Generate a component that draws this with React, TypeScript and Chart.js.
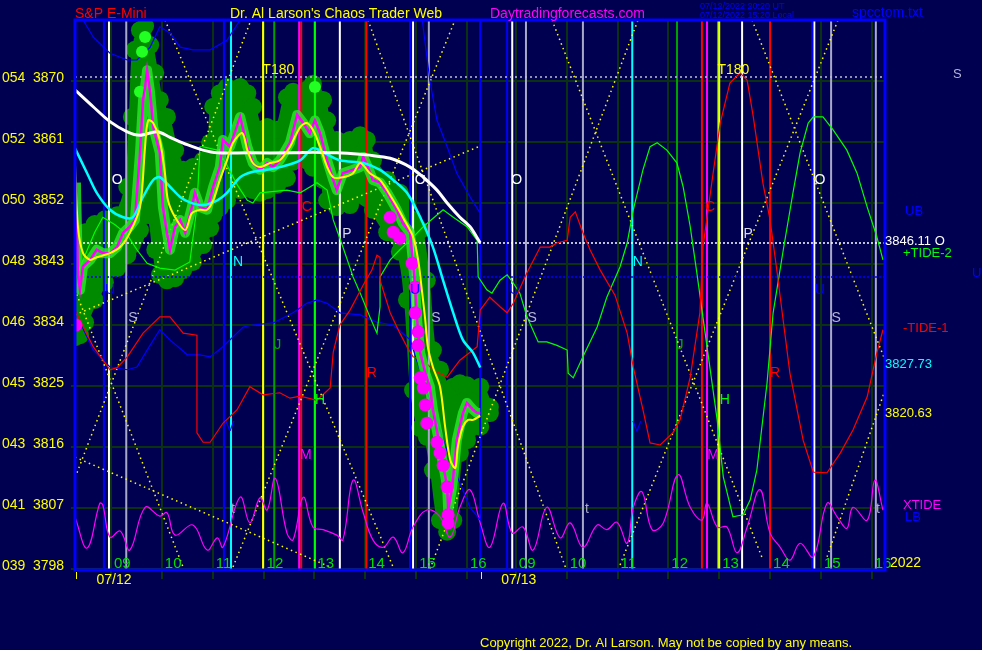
import React, { useEffect, useRef } from 'react';
import { Chart, registerables } from 'chart.js';

Chart.register(...registerables);

// Time axis: hours after 09:00 on 07/12; the 07/13 session's 09:00 sits at DAY2.
const DAY2 = 7.96;
const X_MIN = -0.708;
const X_MAX = 15.22;
const Y_MIN = 3798;
const Y_MAX = 3879;

const yTicks = [3798, 3807, 3816, 3825, 3834, 3843, 3852, 3861, 3870];
const yCodes = ['039', '041', '043', '045', '046', '048', '050', '052', '054'];
const hourLabels = ['09', '10', '11', '12', '13', '14', '15', '16'];
const dayNames = ['07/12', '07/13'];
const dayNine = [0, DAY2];
const dayStartTicks = [X_MIN, 7.257];

// S&P E-mini price (magenta)
const priceT = [-0.69, -0.65, -0.61, -0.55, -0.41, -0.28, -0.16, -0.02, 0.12, 0.24, 0.37, 0.47, 0.57, 0.63, 0.67, 0.71, 0.77, 0.83, 0.96, 1.02, 1.10, 1.16, 1.26, 1.36, 1.46, 1.59, 1.65, 1.75, 1.89, 2.01, 2.14, 2.20, 2.34, 2.54, 2.68, 2.79, 2.93, 3.07, 3.19, 3.32, 3.52, 3.66, 3.78, 3.91, 4.01, 4.11, 4.25, 4.37, 4.44, 4.56, 4.76, 4.90, 4.96, 5.05, 5.15, 5.29, 5.43, 5.62, 5.74, 5.88, 5.94, 5.98, 6.02, 6.08, 6.18, 6.27, 6.33, 6.47, 6.61, 6.63, 6.71, 6.80, 6.92, 7.00, 7.12, 7.20, 7.26];
const priceV = [3855.0, 3841.4, 3839.2, 3842.6, 3843.6, 3845.1, 3844.6, 3844.6, 3845.5, 3847.6, 3848.5, 3849.5, 3859.4, 3867.2, 3869.1, 3871.6, 3868.2, 3863.2, 3859.4, 3851.4, 3847.6, 3845.1, 3848.5, 3849.5, 3847.6, 3851.4, 3853.5, 3851.4, 3851.0, 3854.4, 3857.3, 3861.3, 3860.3, 3864.7, 3860.3, 3857.9, 3856.9, 3857.9, 3857.3, 3858.3, 3860.9, 3865.0, 3863.8, 3862.3, 3864.2, 3862.3, 3858.3, 3855.4, 3853.9, 3856.4, 3856.9, 3857.3, 3858.8, 3857.3, 3855.4, 3855.0, 3853.5, 3851.0, 3849.0, 3847.6, 3843.1, 3839.6, 3834.7, 3829.9, 3826.9, 3824.9, 3821.5, 3816.0, 3810.1, 3806.7, 3810.1, 3817.0, 3821.0, 3822.5, 3821.5, 3821.0, 3821.0];

// fast average (yellow)
const yellowT = [-0.71, -0.65, -0.55, -0.41, -0.28, -0.02, 0.18, 0.37, 0.57, 0.67, 0.73, 0.83, 0.96, 1.06, 1.12, 1.26, 1.46, 1.59, 1.75, 1.89, 2.01, 2.14, 2.28, 2.40, 2.58, 2.68, 2.79, 2.93, 3.13, 3.32, 3.52, 3.72, 3.85, 3.97, 4.11, 4.25, 4.37, 4.56, 4.76, 4.90, 5.09, 5.29, 5.55, 5.74, 5.94, 6.04, 6.12, 6.18, 6.23, 6.33, 6.47, 6.57, 6.67, 6.77, 6.82, 6.92, 7.02, 7.12, 7.26];
const yellowV = [3858.0, 3848.5, 3844.6, 3843.6, 3844.0, 3844.6, 3845.5, 3847.6, 3851.4, 3860.3, 3864.2, 3863.8, 3861.3, 3856.4, 3852.4, 3849.9, 3848.0, 3850.5, 3851.0, 3851.0, 3852.4, 3855.4, 3858.3, 3860.9, 3862.3, 3859.8, 3857.9, 3857.3, 3857.9, 3858.3, 3860.3, 3863.2, 3863.8, 3862.8, 3860.3, 3857.3, 3855.8, 3855.8, 3856.4, 3857.9, 3856.4, 3855.4, 3852.4, 3849.9, 3847.0, 3843.6, 3838.7, 3834.7, 3830.8, 3827.8, 3824.9, 3819.0, 3814.1, 3812.9, 3816.0, 3819.0, 3820.0, 3820.0, 3820.63];

// medium average (cyan)
const cyanT = [-0.71, -0.47, -0.28, -0.02, 0.24, 0.43, 0.63, 0.83, 0.96, 1.16, 1.36, 1.55, 1.81, 2.09, 2.28, 2.54, 2.79, 3.07, 3.32, 3.72, 3.97, 4.17, 4.50, 4.96, 5.29, 5.55, 5.82, 6.08, 6.33, 6.53, 6.73, 6.92, 7.12, 7.26];
const cyanV = [3860.1, 3856.4, 3853.5, 3851.0, 3849.9, 3849.9, 3852.9, 3855.4, 3855.8, 3854.4, 3852.9, 3852.1, 3851.7, 3852.4, 3853.5, 3855.8, 3856.6, 3856.9, 3857.3, 3858.3, 3860.1, 3859.5, 3858.3, 3857.9, 3856.9, 3855.4, 3853.5, 3849.9, 3845.5, 3840.6, 3835.8, 3831.8, 3829.9, 3827.73];

// slow average (white)
const whiteT = [-0.71, -0.35, -0.02, 0.32, 0.57, 0.91, 1.16, 1.50, 1.81, 2.09, 2.68, 3.58, 3.97, 4.44, 4.90, 5.03, 5.49, 5.88, 6.14, 6.41, 6.61, 6.86, 7.06, 7.26];
const whiteV = [3868.7, 3866.2, 3864.0, 3862.5, 3862.0, 3862.5, 3861.7, 3860.6, 3859.8, 3859.4, 3859.4, 3859.4, 3859.5, 3859.4, 3859.2, 3859.1, 3858.6, 3857.3, 3855.8, 3853.9, 3852.0, 3849.9, 3848.5, 3846.11];

// green "chaos" cloud around the price
const cloudT = [-0.71, -0.61, -0.51, -0.32, -0.12, 0.12, 0.32, 0.41, 0.47, 0.57, 0.67, 0.77, 0.87, 0.96, 1.10, 1.26, 1.42, 1.61, 1.81, 1.95, 2.01, 2.14, 2.28, 2.54, 2.68, 2.79, 2.93, 3.07, 3.27, 3.46, 3.58, 3.85, 3.97, 4.17, 4.25, 4.44, 4.70, 4.90, 5.03, 5.15, 5.43, 5.68, 5.82, 5.94, 6.08, 6.21, 6.33, 6.47, 6.61, 6.73, 6.86, 7.00, 7.26, 7.45];
const cloudHi = [3838.4, 3844.3, 3847.7, 3848.9, 3849.6, 3850.2, 3854.4, 3864.7, 3874.6, 3877.5, 3878.1, 3875.3, 3871.2, 3867.2, 3864.7, 3859.8, 3856.9, 3857.3, 3858.3, 3860.9, 3866.2, 3868.2, 3869.1, 3869.1, 3868.2, 3866.2, 3862.8, 3863.2, 3862.8, 3867.6, 3868.4, 3868.7, 3869.6, 3867.2, 3864.2, 3861.3, 3861.3, 3862.0, 3861.3, 3858.3, 3855.4, 3853.5, 3851.7, 3849.5, 3848.0, 3840.6, 3830.3, 3827.4, 3824.4, 3824.9, 3825.4, 3825.1, 3824.9, 3821.9];
const cloudLo = [3832.2, 3832.5, 3834.4, 3837.7, 3840.3, 3842.4, 3844.3, 3845.8, 3846.8, 3848.0, 3850.2, 3850.2, 3845.1, 3841.4, 3840.6, 3840.9, 3842.1, 3843.3, 3845.8, 3848.3, 3850.2, 3851.3, 3852.4, 3853.9, 3854.2, 3853.9, 3853.5, 3853.9, 3854.7, 3855.7, 3858.1, 3858.3, 3857.2, 3855.4, 3852.4, 3851.4, 3851.7, 3853.2, 3852.7, 3851.0, 3847.7, 3844.8, 3837.7, 3824.4, 3818.8, 3817.5, 3812.6, 3805.2, 3803.5, 3805.2, 3815.1, 3817.0, 3819.0, 3821.0];

// magenta pivot dots, bright green high dots
const dotT = [-0.69, 5.49, 5.55, 5.68, 5.92, 5.98, 5.98, 6.04, 6.04, 6.08, 6.14, 6.18, 6.21, 6.41, 6.47, 6.53, 6.61, 6.63, 6.63];
const dotV = [3834.0, 3849.9, 3847.7, 3846.8, 3843.1, 3839.6, 3835.8, 3833.0, 3831.0, 3826.2, 3824.7, 3822.2, 3819.5, 3816.7, 3815.1, 3813.3, 3810.1, 3806.0, 3804.8];
const highDotT = [0.57, 0.61, 0.67, 4.01];
const highDotV = [3868.4, 3874.3, 3876.5, 3869.1];

// +TIDE-2 (green)
const tide2T = [-0.71, -0.51, -0.32, -0.16, 0.08, 0.32, 0.51, 0.71, 0.96, 1.26, 1.55, 1.69, 1.75, 1.81, 2.09, 2.28, 2.48, 2.68, 2.79, 2.93, 3.46, 3.72, 4.05, 4.25, 4.37, 4.56, 4.76, 4.90, 5.09, 5.23, 5.29, 5.29, 5.49, 5.68, 5.88, 6.14, 6.53, 6.73, 7.00, 7.20, 7.22, 7.39, 7.49, 7.65, 7.79, 7.91, 8.04, 8.18, 8.40, 8.57, 8.77, 8.97, 8.99, 9.09, 9.28, 9.56, 9.75, 10.01, 10.15, 10.27, 10.46, 10.60, 10.74, 10.93, 11.13, 11.25, 11.39, 11.52, 11.72, 11.82, 11.92, 12.04, 12.23, 12.43, 12.57, 12.70, 12.90, 13.02, 13.22, 13.41, 13.55, 13.71, 13.81, 14.00, 14.20, 14.47, 14.67, 14.87, 15.06, 15.18];
const tide2V = [3840.6, 3844.3, 3847.7, 3849.9, 3848.8, 3847.3, 3845.1, 3843.1, 3842.4, 3842.1, 3843.3, 3851.4, 3860.3, 3860.3, 3859.8, 3857.6, 3854.7, 3852.4, 3852.0, 3853.5, 3853.9, 3853.5, 3855.0, 3853.9, 3849.5, 3845.5, 3841.1, 3838.7, 3835.2, 3832.8, 3836.7, 3841.1, 3843.6, 3845.1, 3846.5, 3848.5, 3851.0, 3849.9, 3848.5, 3846.5, 3841.1, 3839.2, 3838.7, 3840.6, 3841.4, 3840.2, 3838.7, 3835.2, 3831.5, 3831.5, 3831.0, 3830.3, 3826.9, 3826.2, 3829.3, 3833.7, 3838.1, 3842.6, 3846.1, 3851.0, 3856.9, 3860.3, 3860.9, 3859.8, 3857.9, 3854.4, 3848.5, 3841.7, 3830.8, 3825.4, 3820.0, 3811.6, 3805.7, 3806.0, 3808.2, 3812.6, 3825.4, 3835.8, 3845.1, 3853.5, 3859.4, 3863.8, 3864.7, 3864.7, 3862.8, 3859.8, 3856.4, 3851.4, 3847.0, 3843.6];

// -TIDE-1 (red)
const tide1T = [-0.71, -0.61, -0.35, -0.02, 0.12, 0.32, 0.63, 0.96, 1.16, 1.42, 1.69, 1.69, 1.81, 1.95, 2.20, 2.48, 2.73, 2.99, 3.32, 3.52, 3.72, 4.05, 4.31, 4.37, 4.50, 4.70, 4.96, 5.13, 5.23, 5.29, 5.29, 5.49, 5.68, 5.82, 5.94, 6.14, 6.33, 6.61, 6.86, 7.20, 7.26, 7.45, 7.65, 7.79, 7.91, 8.18, 8.44, 8.63, 8.77, 8.97, 9.03, 9.13, 9.28, 9.42, 9.62, 9.91, 10.15, 10.27, 10.46, 10.60, 10.80, 11.05, 11.19, 11.39, 11.58, 11.64, 11.84, 11.98, 12.17, 12.37, 12.51, 12.63, 12.82, 12.96, 13.10, 13.16, 13.35, 13.61, 13.81, 14.08, 14.34, 14.59, 14.87, 15.06, 15.18];
const tide1V = [3836.2, 3834.7, 3830.8, 3827.4, 3827.7, 3829.3, 3832.8, 3835.2, 3835.2, 3832.8, 3832.5, 3818.1, 3816.7, 3816.7, 3819.5, 3821.5, 3824.9, 3823.7, 3824.0, 3823.2, 3823.5, 3822.9, 3824.7, 3830.0, 3834.0, 3836.2, 3839.9, 3842.1, 3844.3, 3844.0, 3840.6, 3835.8, 3832.8, 3830.8, 3829.3, 3828.8, 3827.4, 3826.3, 3828.8, 3830.8, 3836.2, 3838.1, 3836.7, 3835.8, 3837.2, 3841.7, 3845.5, 3845.5, 3846.1, 3846.5, 3849.9, 3850.7, 3847.6, 3845.1, 3842.1, 3838.4, 3832.8, 3827.8, 3821.5, 3816.6, 3816.3, 3818.1, 3820.0, 3826.3, 3835.8, 3845.5, 3856.4, 3863.8, 3869.7, 3871.2, 3870.1, 3864.7, 3854.9, 3849.5, 3841.7, 3838.1, 3826.9, 3817.0, 3812.3, 3812.2, 3815.1, 3818.5, 3823.4, 3829.9, 3833.3];

// upper / lower bands (blue)
const ubT = [-0.71, -0.55, -0.35, -0.02, 0.32, 0.51, 0.77, 0.96, 1.16, 1.36, 1.61, 1.95, 2.28, 2.54, 2.73, 4.0, 5.98, 6.12, 6.27, 6.41, 6.61, 6.80, 7.06, 7.26];
const ubV = [3881.2, 3879.0, 3876.5, 3874.1, 3873.1, 3873.1, 3875.0, 3878.0, 3877.1, 3875.0, 3874.6, 3874.6, 3876.0, 3879.0, 3881.2, null, 3881.2, 3879.0, 3870.1, 3864.2, 3860.3, 3856.4, 3852.9, 3850.5];
const lbT = [-0.61, -0.35, -0.02, 0.32, 0.51, 0.71, 0.96, 1.16, 1.50, 1.75, 1.95, 2.20, 2.60, 2.79, 3.19, 3.58, 3.85, 4.05, 4.25, 4.50, 4.90, 5.23, 5.55, 5.88, 6.27, 6.67, 7.06, 7.26];
const lbV = [3834.4, 3830.3, 3827.8, 3827.4, 3827.8, 3830.3, 3833.3, 3831.8, 3829.6, 3829.6, 3829.3, 3830.8, 3833.7, 3834.0, 3834.3, 3835.8, 3837.2, 3837.7, 3837.2, 3835.8, 3835.5, 3834.4, 3834.0, 3831.8, 3822.9, 3814.1, 3807.1, 3805.2];

// XTIDE (magenta, bottom)
const xtideT = [-0.71, -0.47, -0.22, -0.16, -0.02, 0.18, 0.37, 0.67, 0.96, 1.10, 1.26, 1.61, 1.89, 2.09, 2.20, 2.54, 2.73, 2.93, 3.07, 3.23, 3.46, 3.58, 3.78, 3.97, 4.17, 4.44, 4.56, 4.76, 4.96, 5.15, 5.35, 5.55, 5.74, 5.94, 6.21, 6.47, 6.67, 6.86, 7.06, 7.26, 7.45, 7.71, 7.89, 8.10, 8.30, 8.57, 8.83, 9.03, 9.28, 9.56, 9.75, 9.95, 10.15, 10.27, 10.44, 10.64, 10.86, 11.15, 11.39, 11.62, 11.72, 11.92, 12.11, 12.31, 12.51, 12.76, 12.96, 13.16, 13.35, 13.55, 13.81, 14.08, 14.28, 14.47, 14.59, 14.87, 15.02, 15.18];
const xtideV = [3805.7, 3801.1, 3807.7, 3807.4, 3802.7, 3803.6, 3800.8, 3807.1, 3805.8, 3806.3, 3803.0, 3804.5, 3800.8, 3802.6, 3801.2, 3808.6, 3804.8, 3808.5, 3806.7, 3811.4, 3803.3, 3802.3, 3808.6, 3804.2, 3803.8, 3803.0, 3802.3, 3811.1, 3806.3, 3802.3, 3801.2, 3802.7, 3800.4, 3804.2, 3806.7, 3805.7, 3802.7, 3807.1, 3809.7, 3804.8, 3801.2, 3807.7, 3803.3, 3804.2, 3800.8, 3807.1, 3802.6, 3804.8, 3801.2, 3804.5, 3803.8, 3804.9, 3801.8, 3807.1, 3809.4, 3803.8, 3804.8, 3811.9, 3807.1, 3805.2, 3807.7, 3804.2, 3804.2, 3800.4, 3804.2, 3809.7, 3803.3, 3801.2, 3799.3, 3801.8, 3799.8, 3807.7, 3805.7, 3804.0, 3807.1, 3805.2, 3811.1, 3806.7];

// horizontal levels
const t180Level = 3870.6;
const openLevel = 3846.11;
const uLevel = 3841.1;

// vertical time lines, by kind
const blueTimes = [-0.14, 2.22, 5.88, 7.26, 7.79, 13.79];
const whiteTimes = [-0.04, 4.50, 5.94, 7.89, 12.41, 13.83];
const greyTimes = [0.30, 6.25, 8.16, 9.28, 14.16, 15.04];
const cyanTimes = [2.36, 10.25];
const yellowTimes = [2.99, 11.96];
const jupiterTimes = [3.21, 11.13];
const magentaTimes = [3.70, 11.72];
const redTimes = [3.74, 5.02, 11.62, 12.96];
const greenTimes = [4.01, 11.94];

// dotted lattice lines (start and end)
const latStartT = [-0.708, -0.708, 1.062, -0.669, -0.708, 5.054, 2.399, 6.273, 8.672, 10.010, 12.606, 14.081];
const latStartV = [3835.5, 3814.5, 3879.0, 3812.2, 3839.2, 3879.0, 3798.3, 3798.0, 3879.0, 3798.6, 3879.0, 3799.8];
const latEndT = [7.257, 4.307, 5.546, 2.753, 1.416, 8.948, 6.765, 10.364, 12.822, 14.297, 15.221, 15.221];
const latEndV = [3860.4, 3798.3, 3798.3, 3879.0, 3798.3, 3798.0, 3879.0, 3879.0, 3799.3, 3879.0, 3828.8, 3824.4];

// letter marks
const markText = ['O', 'O', 'O', 'O', 'S', 'S', 'S', 'S', 'N', 'N', 'J', 'J', 'H', 'H', 'M', 'M', 'R', 'R', 'C', 'C', 'P', 'P', 'U', 'U', 'U', 'U', 'V', 'V', 't', 't', 't', 'T180', 'T180'];
const markT = [0.12, 6.08, 7.98, 13.94, 0.43, 6.39, 8.28, 14.26, 2.50, 10.36, 3.28, 11.19, 4.11, 12.07, 3.83, 11.84, 5.13, 13.06, 3.85, 11.78, 4.64, 12.53, -0.02, 5.98, 7.93, 13.94, 2.34, 10.34, 2.40, 9.36, 15.08, 3.29, 12.24];
const markV = [3855.4, 3855.4, 3855.4, 3855.4, 3835.0, 3835.0, 3835.0, 3835.0, 3843.3, 3843.3, 3831.0, 3831.0, 3822.9, 3822.9, 3814.8, 3814.8, 3826.9, 3826.9, 3851.4, 3851.4, 3847.4, 3847.4, 3839.2, 3839.2, 3839.2, 3839.2, 3819.0, 3819.0, 3806.9, 3806.9, 3806.9, 3871.6, 3871.6];

// ---------- styling ----------
const BG = '#000050';
const GRID = '#0a3210';
const CLOUD = '#008a00';
const FONT = '"Liberation Sans", Arial, sans-serif';
const markColor: Record<string, string> = {
  O: '#ffffff', S: '#b4b4d4', N: '#00ffff', J: '#00b000', H: '#00ff00', M: '#ff00ff',
  R: '#ff0000', C: '#ff0000', P: '#d8d8e8', U: '#0000ff', V: '#0000ff', t: '#a8a8c8', T180: '#ffff00',
};

const pts = (t: number[], v: (number | null)[]) => t.map((x, i) => ({ x, y: v[i] }));
const verticals = (times: number[]) => times.flatMap((t) => [{ x: t, y: Y_MIN }, { x: t, y: Y_MAX }, { x: t, y: null }]);
const lattice = () => latStartT.flatMap((t, i) => [{ x: t, y: latStartV[i] }, { x: latEndT[i], y: latEndV[i] }, { x: latEndT[i], y: null }]);
const level = (v: number) => [{ x: X_MIN, y: v }, { x: X_MAX, y: v }];

const ln = (data: any[], color: string, width: number, order: number, extra: any = {}) => ({
  data, borderColor: color, backgroundColor: color, borderWidth: width, pointRadius: 0,
  tension: 0, fill: false, order, spanGaps: false, ...extra,
});

const decor = {
  id: 'decor',
  beforeDraw(chart: any) {
    const { ctx, width, height } = chart;
    ctx.save();
    ctx.fillStyle = BG;
    ctx.fillRect(0, 0, width, height);
    ctx.restore();
  },
  beforeDatasetsDraw(chart: any) {
    const { ctx, chartArea: a, scales } = chart;
    const x = scales.x, y = scales.y;
    ctx.save();
    ctx.strokeStyle = GRID;
    ctx.lineWidth = 2;
    yTicks.forEach((v) => {
      const py = Math.round(y.getPixelForValue(v));
      ctx.beginPath(); ctx.moveTo(a.left - 4, py); ctx.lineTo(a.right, py); ctx.stroke();
    });
    dayNine.forEach((d) => {
      for (let h = 0; h < 8; h++) {
        const px = Math.round(x.getPixelForValue(d + h));
        if (px <= a.left || px >= a.right) continue;
        ctx.beginPath(); ctx.moveTo(px, a.top); ctx.lineTo(px, a.bottom + 10); ctx.stroke();
      }
    });
    ctx.restore();
  },
  afterDatasetsDraw(chart: any) {
    const { ctx, chartArea: a, scales } = chart;
    const x = scales.x, y = scales.y;
    ctx.save();
    // letter marks
    ctx.font = `14px ${FONT}`;
    ctx.textAlign = 'center';
    ctx.textBaseline = 'middle';
    markText.forEach((s, i) => {
      ctx.fillStyle = markColor[s];
      ctx.fillText(s, x.getPixelForValue(markT[i]), y.getPixelForValue(markV[i]));
    });
    // hour labels inside the plot bottom
    ctx.textAlign = 'left';
    ctx.textBaseline = 'alphabetic';
    ctx.font = `15px ${FONT}`;
    ctx.fillStyle = '#00e000';
    dayNine.forEach((d) => {
      hourLabels.forEach((lab, h) => {
        ctx.fillText(lab, x.getPixelForValue(d + h) + 3, a.bottom - 1);
      });
    });
    // frame
    ctx.strokeStyle = '#0000ff';
    ctx.lineWidth = 3;
    ctx.strokeRect(a.left, a.top, a.right - a.left, a.bottom - a.top + 1);
    // day labels & ticks
    ctx.fillStyle = '#ffff00';
    ctx.font = `14px ${FONT}`;
    ctx.textAlign = 'center';
    dayNine.forEach((d, i) => {
      ctx.fillText(dayNames[i], x.getPixelForValue(d) + 3, a.bottom + 15);
    });
    ctx.strokeStyle = '#ffff00';
    ctx.lineWidth = 1;
    dayStartTicks.forEach((t) => {
      const px = Math.round(x.getPixelForValue(t)) + 1.5;
      ctx.beginPath(); ctx.moveTo(px, a.bottom + 3); ctx.lineTo(px, a.bottom + 10); ctx.stroke();
    });
    // left axis labels
    ctx.textAlign = 'left';
    ctx.font = `14px ${FONT}`;
    yTicks.forEach((v, i) => {
      const py = y.getPixelForValue(v) + 1;
      ctx.fillText(yCodes[i], 2, py);
      ctx.fillText(String(v), 33, py);
    });
    // titles
    ctx.font = `14px ${FONT}`;
    ctx.fillStyle = '#ff0000'; ctx.fillText('S&P E-Mini', 75, 18);
    ctx.fillStyle = '#ffff00'; ctx.fillText("Dr. Al Larson's Chaos Trader Web", 230, 18);
    ctx.fillStyle = '#ff00ff'; ctx.fillText('Daytradingforecasts.com', 490, 18);
    ctx.fillStyle = '#0000ff'; ctx.fillText('spcctom.txt', 852, 17);
    ctx.font = `9px ${FONT}`;
    ctx.fillText('07/12/2022 20:20 UT', 700, 9);
    ctx.fillText('07/12/2022 15:20 Local', 700, 18);
    // right side labels
    ctx.font = `13px ${FONT}`;
    ctx.fillStyle = '#b4b4d4'; ctx.fillText('S', 953, 78);
    ctx.fillStyle = '#0000ff'; ctx.fillText('UB', 905, 215);
    ctx.fillStyle = '#ffffff'; ctx.fillText(`${openLevel.toFixed(2)} O`, 885, y.getPixelForValue(openLevel) + 2);
    ctx.fillStyle = '#00ff00'; ctx.fillText('+TIDE-2', 903, 257);
    ctx.fillStyle = '#0000ff'; ctx.fillText('U', 972, 277);
    ctx.fillStyle = '#ff0000'; ctx.fillText('-TIDE-1', 903, 332);
    const cyanLast = cyanV[cyanV.length - 1];
    const yellowLast = yellowV[yellowV.length - 1];
    ctx.fillStyle = '#00ffff'; ctx.fillText(cyanLast.toFixed(2), 885, y.getPixelForValue(cyanLast) + 1);
    ctx.fillStyle = '#ffff00'; ctx.fillText(yellowLast.toFixed(2), 885, y.getPixelForValue(yellowLast) + 1);
    ctx.fillStyle = '#ff00ff'; ctx.fillText('XTIDE', 903, 509);
    ctx.fillStyle = '#0000ff'; ctx.fillText('LB', 905, 521);
    ctx.fillStyle = '#ffff00'; ctx.font = `14px ${FONT}`; ctx.fillText('2022', 890, 567);
    ctx.font = `13px ${FONT}`;
    ctx.fillText('Copyright 2022, Dr. Al Larson. May not be copied by any means.', 480, 647);
    ctx.restore();
  },
};

export default function App() {
  const ref = useRef<HTMLCanvasElement | null>(null);
  useEffect(() => {
    if (!ref.current) return;
    const dotted = { borderDash: [1.5, 3.5] };
    const blob = { tension: 0.35, pointRadius: 9, pointBorderWidth: 0, pointBackgroundColor: CLOUD };
    const datasets: any[] = [
      ln(pts(cloudT, cloudHi), CLOUD, 6, 40, { ...blob, fill: '+1', backgroundColor: CLOUD }),
      ln(pts(cloudT, cloudLo), CLOUD, 6, 40, blob),
      ln(verticals(blueTimes), '#0000ff', 2, 30),
      ln(verticals(whiteTimes), '#ffffff', 2, 30),
      ln(verticals(greyTimes), '#a8a8c8', 2, 30),
      ln(verticals(cyanTimes), '#00ffff', 2, 30),
      ln(verticals(yellowTimes), '#ffff00', 2, 30),
      ln(verticals(jupiterTimes), '#00a000', 2, 30),
      ln(verticals(magentaTimes), '#ff00ff', 2, 30),
      ln(verticals(redTimes), '#ff0000', 2, 30),
      ln(verticals(greenTimes), '#00ff00', 2, 30),
      ln(lattice(), '#ffff00', 1.5, 29, dotted),
      ln(level(t180Level), '#c0c0d0', 1.5, 28, { borderDash: [2, 3] }),
      ln(level(openLevel), '#ffffff', 1.5, 28, { borderDash: [2, 2] }),
      ln(level(uLevel), '#0000ff', 1.5, 28, { borderDash: [2, 2] }),
      ln(pts(xtideT, xtideV), '#ff00ff', 1.2, 20, { tension: 0.4 }),
      ln(pts(ubT, ubV), '#0000ff', 1.2, 19),
      ln(pts(lbT, lbV), '#0000ff', 1.2, 19),
      ln(pts(tide1T, tide1V), '#ff0000', 1.2, 18),
      ln(pts(tide2T, tide2V), '#00ff00', 1.2, 18),
      ln(pts(priceT, priceV), 'rgba(40,235,40,0.8)', 10, 10, { borderJoinStyle: 'round' }),
      ln(pts(highDotT, highDotV), '#22ff22', 0, 9, { showLine: false, pointRadius: 6, pointBorderWidth: 0, pointBackgroundColor: '#22ff22' }),
      ln(pts(priceT, priceV), '#ff00ff', 2.5, 7),
      ln(pts(cyanT, cyanV), '#00ffff', 2.5, 6, { tension: 0.3 }),
      ln(pts(whiteT, whiteV), '#ffffff', 3, 5, { tension: 0.3 }),
      ln(pts(dotT, dotV), '#ff00ff', 0, 4, { showLine: false, pointRadius: 6.5, pointBorderWidth: 0, pointBackgroundColor: '#ff00ff' }),
      ln(pts(yellowT, yellowV), '#ffff00', 2, 3, { tension: 0.3 }),
    ];
    const chart = new Chart(ref.current, {
      type: 'line',
      data: { datasets },
      options: {
        responsive: false,
        animation: false,
        devicePixelRatio: 1,
        events: [],
        layout: { padding: { left: 75, top: 20, right: 97, bottom: 81 } },
        scales: {
          x: { type: 'linear', min: X_MIN, max: X_MAX, display: false },
          y: { type: 'linear', min: Y_MIN, max: Y_MAX, display: false },
        },
        plugins: { legend: { display: false }, tooltip: { enabled: false } },
      },
      plugins: [decor],
    } as any);
    return () => chart.destroy();
  }, []);
  return (
    <div style={{ position: 'absolute', left: 0, top: 0, width: 982, height: 650, background: BG }}>
      <canvas ref={ref} width={982} height={650} style={{ display: 'block' }} />
    </div>
  );
}
